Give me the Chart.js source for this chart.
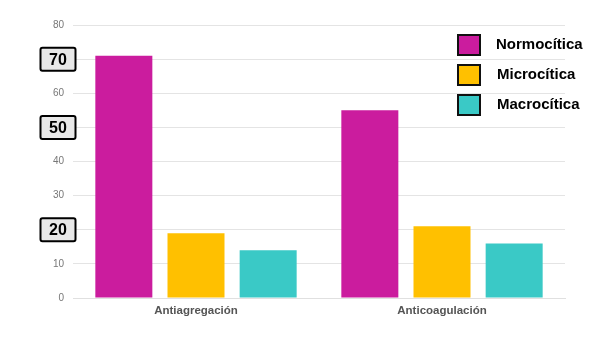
<!DOCTYPE html>
<html>
<head>
<meta charset="utf-8">
<script src="https://cdn.jsdelivr.net/npm/chart.js@4/dist/chart.umd.min.js"></script>
<style>
  html, body { margin: 0; padding: 0; background: #fff; }
  #wrap { width: 599px; height: 343px; }
</style>
</head>
<body>
<div id="wrap"><canvas id="chart" width="599" height="343"></canvas></div>
<script>
// Daten
const categories = ['Antiagregación', 'Anticoagulación'];
const seriesNames = ['Normocítica', 'Microcítica', 'Macrocítica'];
const normocitica = [71, 55];
const microcitica = [19, 21];
const macrocitica = [14, 16];
const seriesColors = ['#CB1C9E', '#FFC000', '#3AC9C6'];
const highlightedTicks = [70, 50, 20]; // umrandete Achsenwerte

// Umrandete Beschriftungen an der y-Achse
const boxedTicksPlugin = {
    id: 'boxedTicks',
    afterDraw(chart) {
        const { ctx } = chart;
        const yScale = chart.scales.y;
        ctx.save();
        ctx.font = 'bold 16px Arial, "Liberation Sans"';
        ctx.textAlign = 'center';
        ctx.textBaseline = 'middle';
        highlightedTicks.forEach(v => {
            const cy = yScale.getPixelForValue(v);
            const w = 35, h = 23, cx = 58;
            ctx.fillStyle = '#e8e8e8';
            ctx.strokeStyle = '#000';
            ctx.lineWidth = 2;
            ctx.beginPath();
            ctx.roundRect(cx - w / 2, cy - h / 2, w, h, 2);
            ctx.fill();
            ctx.stroke();
            ctx.fillStyle = '#000';
            ctx.fillText(String(v), cx, cy + 1);
        });
        ctx.restore();
    }
};

// Eigene Legende oben rechts
const customLegendPlugin = {
    id: 'customLegend',
    afterDraw(chart) {
        const { ctx } = chart;
        ctx.save();
        ctx.font = 'bold 15px Arial, "Liberation Sans"';
        ctx.textBaseline = 'middle';
        ctx.textAlign = 'left';
        chart.data.datasets.forEach((ds, i) => {
            const y = 35 + i * 30;
            ctx.fillStyle = ds.backgroundColor;
            ctx.strokeStyle = '#111';
            ctx.lineWidth = 2;
            ctx.fillRect(458, y, 22, 20);
            ctx.strokeRect(458, y, 22, 20);
            ctx.fillStyle = '#000';
            ctx.fillText(ds.label, i === 0 ? 496 : 497, y + 10);
        });
        ctx.restore();
    }
};

const datasets = [normocitica, microcitica, macrocitica].map((vals, i) => ({
    label: seriesNames[i],
    data: vals,
    backgroundColor: seriesColors[i],
    borderWidth: 0,
    categoryPercentage: 0.88,
    barPercentage: 0.79
}));

new Chart(document.getElementById('chart'), {
    type: 'bar',
    data: { labels: categories, datasets: datasets },
    options: {
        responsive: false,
        animation: false,
        layout: { padding: { top: 25, right: 34, left: 0, bottom: 0 } },
        plugins: {
            legend: { display: false },
            tooltip: { enabled: false }
        },
        scales: {
            x: {
                grid: { display: false, drawTicks: false },
                border: { color: '#e0e0e0' },
                ticks: {
                    color: '#555',
                    font: { family: 'Arial, "Liberation Sans"', size: 11.5, weight: 'bold' },
                    padding: 6
                },
                afterFit(scale) { scale.height = 45; }
            },
            y: {
                min: 0,
                max: 80,
                ticks: {
                    stepSize: 10,
                    color: '#777',
                    padding: 9,
                    font: { family: 'Arial, "Liberation Sans"', size: 10 },
                    callback: v => highlightedTicks.includes(v) ? '' : v
                },
                grid: { color: '#e4e4e4', drawTicks: false },
                border: { display: false },
                afterFit(scale) { scale.width = 73; }
            }
        }
    },
    plugins: [boxedTicksPlugin, customLegendPlugin]
});
</script>
</body>
</html>
